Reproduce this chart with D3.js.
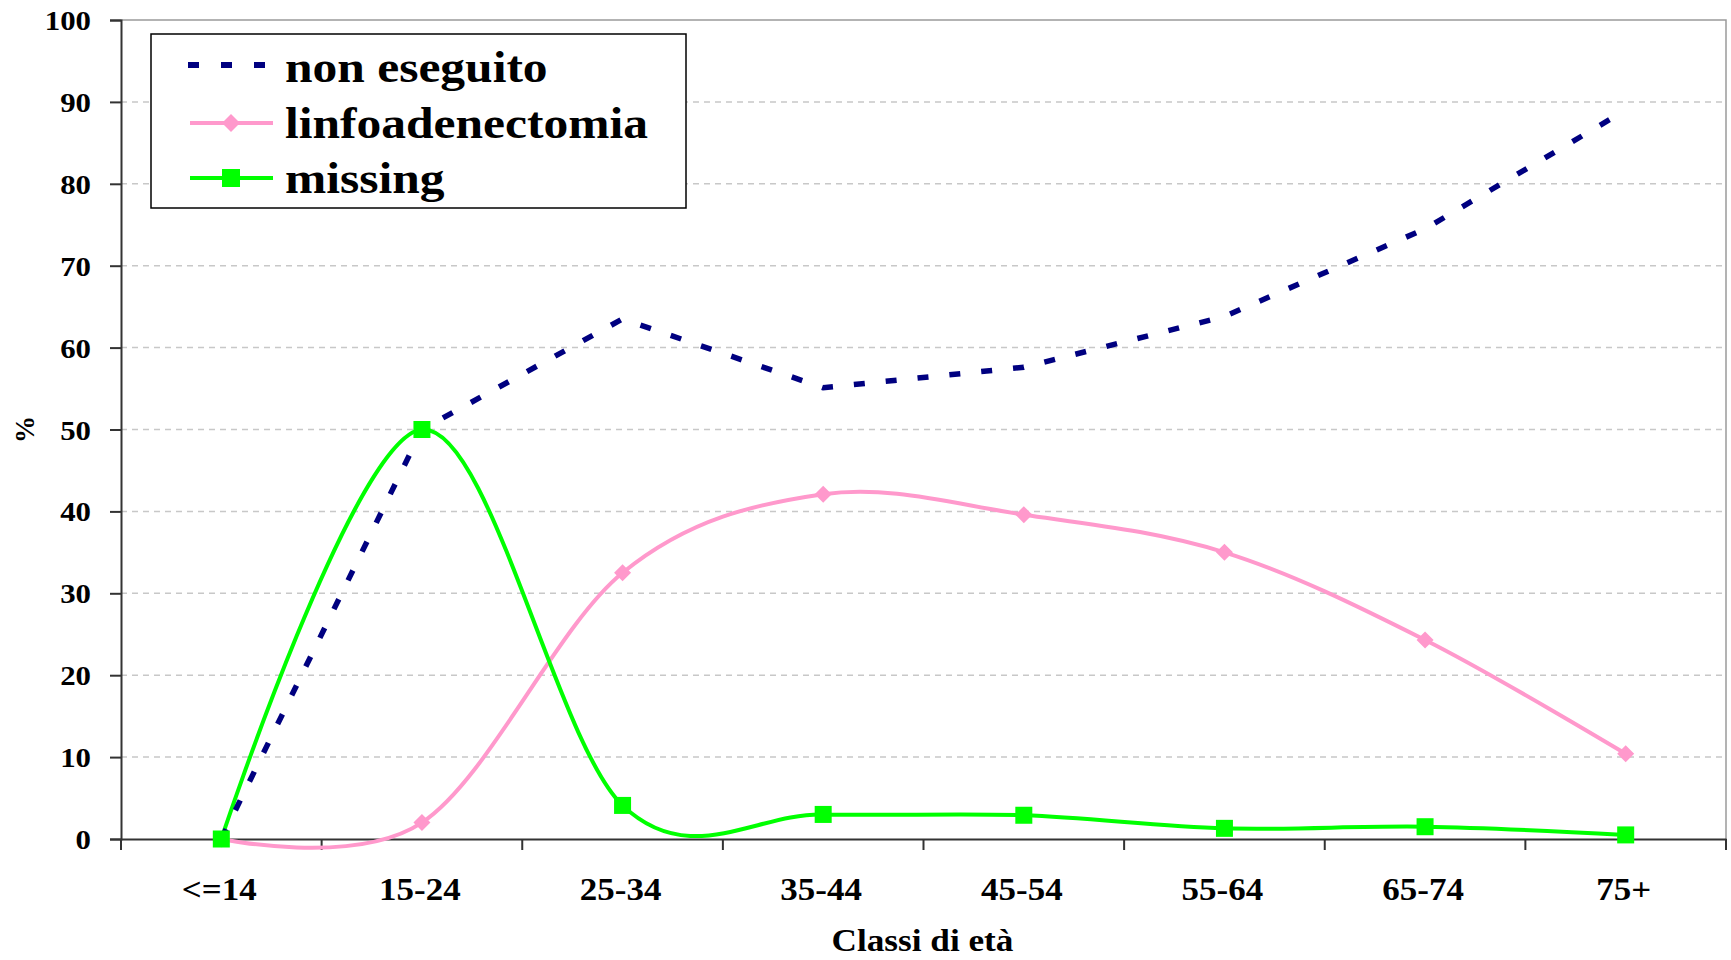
<!DOCTYPE html>
<html>
<head>
<meta charset="utf-8">
<script src="https://cdn.jsdelivr.net/npm/d3@7"></script>
<style>
  html, body { margin: 0; padding: 0; background: #fff; }
  svg { display: block; }
  text { font-family: "Liberation Serif", "Times New Roman", serif; font-weight: bold; fill: #000; }
</style>
</head>
<body>
<svg id="chart" width="1731" height="960"></svg>
<script>
const categories = ["<=14", "15-24", "25-34", "35-44", "45-54", "55-64", "65-74", "75+"];
const nonEseguito = [0, 50, 63.5, 55.1, 57.6, 63.8, 74.5, 89.0];
const linfoadenectomia = [0, 2.0, 32.5, 42.1, 39.6, 35.0, 24.3, 10.4];
const missing = [0, 50, 4.1, 3.0, 2.9, 1.3, 1.5, 0.5];
const yTicks = [0, 10, 20, 30, 40, 50, 60, 70, 80, 90, 100];
const seriesNames = ["non eseguito", "linfoadenectomia", "missing"];

(function () {
const svg = d3.select("#chart");
const pLeft = 121, pRight = 1726, pTop = 20, pBottom = 839;
const SX = 1.1;

const x = d3.scaleBand().domain(categories).range([pLeft, pRight]).padding(0);
const y = d3.scaleLinear().domain([0, 100]).range([pBottom, pTop]);
const cx = c => x(c) + x.bandwidth() / 2;

function stext(g, tx, ty, str, size, anchor, sx) {
  return g.append("text")
    .attr("transform", `translate(${tx},${ty}) scale(${sx || SX},1)`)
    .attr("text-anchor", anchor)
    .style("font-size", size + "px")
    .text(str);
}

// gridlines
svg.append("g").selectAll("line").data(yTicks.filter(d => d > 0 && d < 100)).join("line")
  .attr("x1", pLeft).attr("x2", pRight)
  .attr("y1", d => y(d)).attr("y2", d => y(d))
  .attr("stroke", "#c8c8c8").attr("stroke-width", 1.5)
  .attr("stroke-dasharray", "6,5");

// plot border top/right
svg.append("path")
  .attr("d", `M${pLeft},${y(100)}H${pRight}V${pBottom}`)
  .attr("fill", "none").attr("stroke", "#9a9a9a").attr("stroke-width", 1.5);

// y axis
const yAxis = svg.append("g").attr("transform", `translate(${pLeft},0)`)
  .call(d3.axisLeft(y).tickValues(yTicks).tickSize(11).tickFormat(""));
yAxis.select(".domain").attr("stroke", "#333").attr("stroke-width", 2);
yAxis.selectAll(".tick line").attr("stroke", "#333").attr("stroke-width", 2);
const yl = svg.append("g");
yTicks.forEach(t => stext(yl, 91, y(t) + 10, String(t), 28, "end"));

// x axis
const xAxis = svg.append("g").attr("transform", `translate(0,${pBottom})`)
  .call(d3.axisBottom(x).tickSize(0).tickFormat(""));
xAxis.select(".domain").attr("stroke", "#333").attr("stroke-width", 2);
const bounds = categories.map(c => x(c)).concat([pRight]);
svg.append("g").selectAll("line").data(bounds).join("line")
  .attr("x1", d => d).attr("x2", d => d)
  .attr("y1", pBottom).attr("y2", pBottom + 11)
  .attr("stroke", "#333").attr("stroke-width", 2);
const xl = svg.append("g");
categories.forEach(c => stext(xl, cx(c) - 2, 900, c, 31, "middle", 1.13));

// axis titles
stext(svg, (pLeft + pRight) / 2 - 1, 951, "Classi di età", 32, "middle");
svg.append("text")
  .attr("transform", `translate(34,${y(50)}) rotate(-90)`)
  .attr("text-anchor", "middle")
  .style("font-size", "27px")
  .text("%");

// lines
const smooth = d3.line()
  .x((d, i) => cx(categories[i]))
  .y(d => y(d))
  .curve(d3.curveCardinal.tension(0));
const straight = d3.line()
  .x((d, i) => cx(categories[i]))
  .y(d => y(d));

const pink = "#ff99cc", green = "#00ff00", navy = "#000080";

svg.append("path").datum(linfoadenectomia).attr("d", smooth)
  .attr("fill", "none").attr("stroke", pink).attr("stroke-width", 4);
svg.append("path").datum(missing).attr("d", smooth)
  .attr("fill", "none").attr("stroke", green).attr("stroke-width", 4);
svg.append("path").datum(nonEseguito).attr("d", straight)
  .attr("fill", "none").attr("stroke", navy).attr("stroke-width", 5.5)
  .attr("stroke-dasharray", "11,21");

// markers
const diamond = s => `M0,${-s}L${s},0L0,${s}L${-s},0Z`;
svg.append("g").selectAll("path").data(linfoadenectomia).join("path")
  .attr("transform", (d, i) => `translate(${cx(categories[i])},${y(d)})`)
  .attr("d", diamond(8.5)).attr("fill", pink);
svg.append("g").selectAll("rect").data(missing).join("rect")
  .attr("x", (d, i) => cx(categories[i]) - 8.5)
  .attr("y", d => y(d) - 8.5)
  .attr("width", 17).attr("height", 17).attr("fill", green);

// legend
const lg = svg.append("g");
lg.append("rect").attr("x", 151).attr("y", 34).attr("width", 535).attr("height", 174)
  .attr("fill", "#fff").attr("stroke", "#000").attr("stroke-width", 1.5);
const rows = [65, 123, 178];
const baselines = [82, 138, 193];
lg.append("line").attr("x1", 188).attr("x2", 266).attr("y1", rows[0]).attr("y2", rows[0])
  .attr("stroke", navy).attr("stroke-width", 6).attr("stroke-dasharray", "11,22");
lg.append("line").attr("x1", 190).attr("x2", 273).attr("y1", rows[1]).attr("y2", rows[1])
  .attr("stroke", pink).attr("stroke-width", 4);
lg.append("path").attr("transform", `translate(231,${rows[1]})`).attr("d", diamond(9)).attr("fill", pink);
lg.append("line").attr("x1", 190).attr("x2", 273).attr("y1", rows[2]).attr("y2", rows[2])
  .attr("stroke", green).attr("stroke-width", 4);
lg.append("rect").attr("x", 222).attr("y", rows[2] - 9).attr("width", 18).attr("height", 18).attr("fill", green);
seriesNames.forEach((n, i) => stext(lg, 285, baselines[i], n, 45, "start"));
})();
</script>
</body>
</html>
